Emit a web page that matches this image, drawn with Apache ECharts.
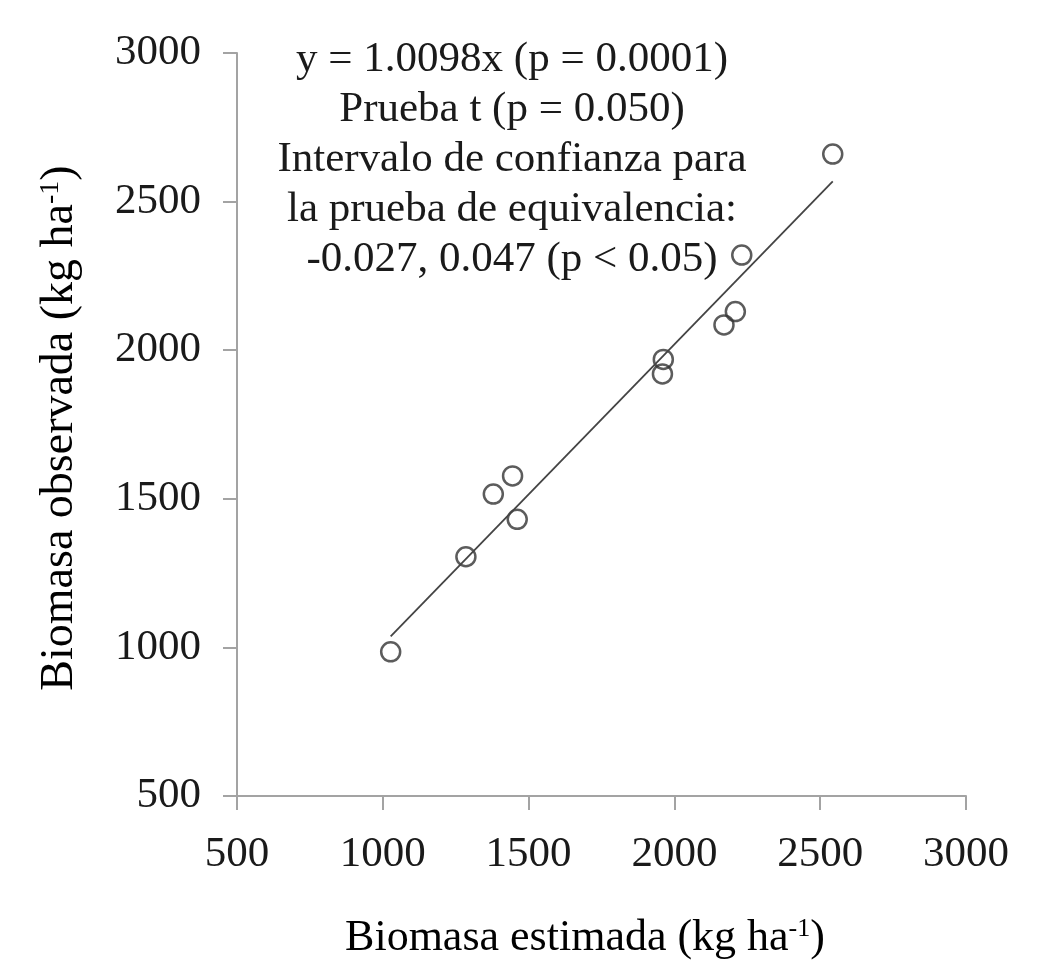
<!DOCTYPE html>
<html>
<head>
<meta charset="utf-8">
<script src="https://cdn.jsdelivr.net/npm/echarts@6/dist/echarts.min.js"></script>
<style>
html,body{margin:0;padding:0;background:#fff;}
#chart{width:1040px;height:973px;}
</style>
</head>
<body>
<div id="chart"></div>
<script>
// Data
const estimated = [1027, 1285, 1379, 1445, 1461, 1959, 1962, 2170, 2209, 2231, 2543];
const observed  = [985, 1305, 1516, 1577, 1431, 1920, 1969, 2085, 2130, 2320, 2660];
const slope = 1.0098;
const axisMin = 500, axisMax = 3000, axisStep = 500;
const annotationLines = [
  'y = 1.0098x (p = 0.0001)',
  'Prueba t (p = 0.050)',
  'Intervalo de confianza para',
  'la prueba de equivalencia:',
  '-0.027, 0.047 (p < 0.05)'
];
const xTitle = ['Biomasa estimada (kg ha', '-1', ')'];
const yTitle = ['Biomasa observada (kg ha', '-1', ')'];

const FONT = '"Liberation Serif", "DejaVu Serif", serif';
const FS = 43;
const TXT = '#1a1a1a';
const points = estimated.map((x, i) => [x, observed[i]]);
const xMin = Math.min(...estimated), xMax = Math.max(...estimated);
const fitLine = [[xMin, slope * xMin], [xMax, slope * xMax]];

const axisCommon = {
  type: 'value', min: axisMin, max: axisMax, interval: axisStep,
  axisLine: {show: true, lineStyle: {color: '#a3a3a3', width: 2}},
  axisTick: {show: true, length: 14, lineStyle: {color: '#a3a3a3', width: 2}},
  splitLine: {show: false},
  axisLabel: {color: TXT, fontFamily: FONT, fontSize: FS, formatter: v => String(v)}
};

const richFor = size => ({
  a: {fontFamily: FONT, fontSize: size, color: TXT},
  s: {fontFamily: FONT, fontSize: Math.round(size * 0.6), color: TXT, verticalAlign: 'top', padding: [0, 0, 16, 0]}
});
const richText = parts => '{a|' + parts[0] + '}{s|' + parts[1] + '}{a|' + parts[2] + '}';

const graphics = annotationLines.map((t, i) => ({
  type: 'text', x: 512, y: 60 + i * 50, z: 10,
  style: {text: t, fontFamily: FONT, fontSize: FS, fill: TXT, align: 'center', verticalAlign: 'middle'}
}));
graphics.push({
  type: 'text', x: 585, y: 938, z: 10,
  style: {text: richText(xTitle), rich: richFor(44), align: 'center', verticalAlign: 'middle'}
});
graphics.push({
  type: 'text', x: 60, y: 428, rotation: Math.PI / 2, z: 10,
  style: {text: richText(yTitle), rich: richFor(46), align: 'center', verticalAlign: 'middle'}
});

const chart = echarts.init(document.getElementById('chart'));
chart.setOption({
  backgroundColor: '#fff',
  animation: false,
  grid: {left: 237, right: 74, top: 53, bottom: 177, containLabel: false},
  xAxis: Object.assign({}, axisCommon, {axisLabel: Object.assign({}, axisCommon.axisLabel, {margin: 37})}),
  yAxis: Object.assign({}, axisCommon, {axisLabel: Object.assign({}, axisCommon.axisLabel, {margin: 36})}),
  graphic: graphics,
  series: [
    {
      type: 'line', data: fitLine, symbol: 'none', silent: true,
      lineStyle: {color: '#444', width: 1.8}
    },
    {
      type: 'scatter', data: points, symbol: 'circle', symbolSize: 19,
      itemStyle: {color: 'rgba(0,0,0,0)', borderColor: '#333', borderWidth: 2.5}
    }
  ]
});
</script>
</body>
</html>
